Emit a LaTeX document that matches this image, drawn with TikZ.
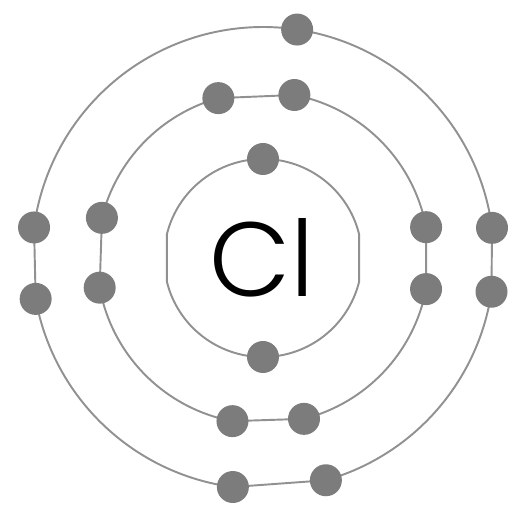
\documentclass[tikz,border=0pt]{standalone}
\usepackage{fontspec}
\setsansfont{Poppins Light}
\usepackage{tikz}
\usetikzlibrary{backgrounds}
\definecolor{shellgray}{RGB}{145,145,145}
\definecolor{electrongray}{RGB}{124,124,124}
\tikzset{
  shell/.style={line width=1.1pt,shellgray},
  electron/.style={circle,fill=electrongray,inner sep=0pt,minimum size=0.64cm},
  symbol/.style={font=\sffamily\fontsize{60}{60}\selectfont,text=black,inner sep=0pt}
}

\begin{document}
\begin{tikzpicture}[x=0.02cm,y=0.02cm]
  \useasboundingbox (0,0) rectangle (508,507);
  \begin{scope}[shift={(263,249)}]
  \node[symbol,anchor=base] (cl) at (-1,-39) {Cl};
  \node[electron] (i1) at (90:99) {};
  \node[electron] (i2) at (-90:99) {};
  \coordinate (ir2) at (-14:99);
  \coordinate (il2) at (166:99);
  \foreach \name/\ang in {m1/105.6,m2/79.1,m3/10.7,m4/-10.8,m5/-75.7,m6/-100.6,m7/-169.7,m8/166}
    \node[electron] (\name) at (\ang:166) {};
  \foreach \name/\ang in {o1/81.5,o2/7.5,o3/-8.4,o4/-74.2,o5/-97.5,o6/-169.8,o7/172.4}
    \node[electron] (\name) at (\ang:231) {};
  \begin{scope}[on background layer]
    \draw[shell] (i1.center) arc[start angle=90,end angle=14,radius=99] -- (ir2)
      arc[start angle=-14,end angle=-90,radius=99] arc[start angle=270,end angle=194,radius=99]
      -- (il2) arc[start angle=166,end angle=90,radius=99] -- cycle;
    \draw[shell] (m1.center) -- (m2.center) arc[start angle=79.1,end angle=10.7,radius=166]
      -- (m4.center) arc[start angle=-10.8,end angle=-75.7,radius=166]
      -- (m6.center) arc[start angle=-100.6,end angle=-169.7,radius=166]
      -- (m8.center) arc[start angle=166,end angle=105.6,radius=166] -- cycle;
    \draw[shell] (o1.center) arc[start angle=81.5,end angle=7.5,radius=231]
      -- (o3.center) arc[start angle=-8.4,end angle=-74.2,radius=231]
      -- (o5.center) arc[start angle=-97.5,end angle=-169.8,radius=231]
      -- (o7.center) arc[start angle=172.4,end angle=81.5,radius=231] -- cycle;
  \end{scope}
  \end{scope}
\end{tikzpicture}
\end{document}
